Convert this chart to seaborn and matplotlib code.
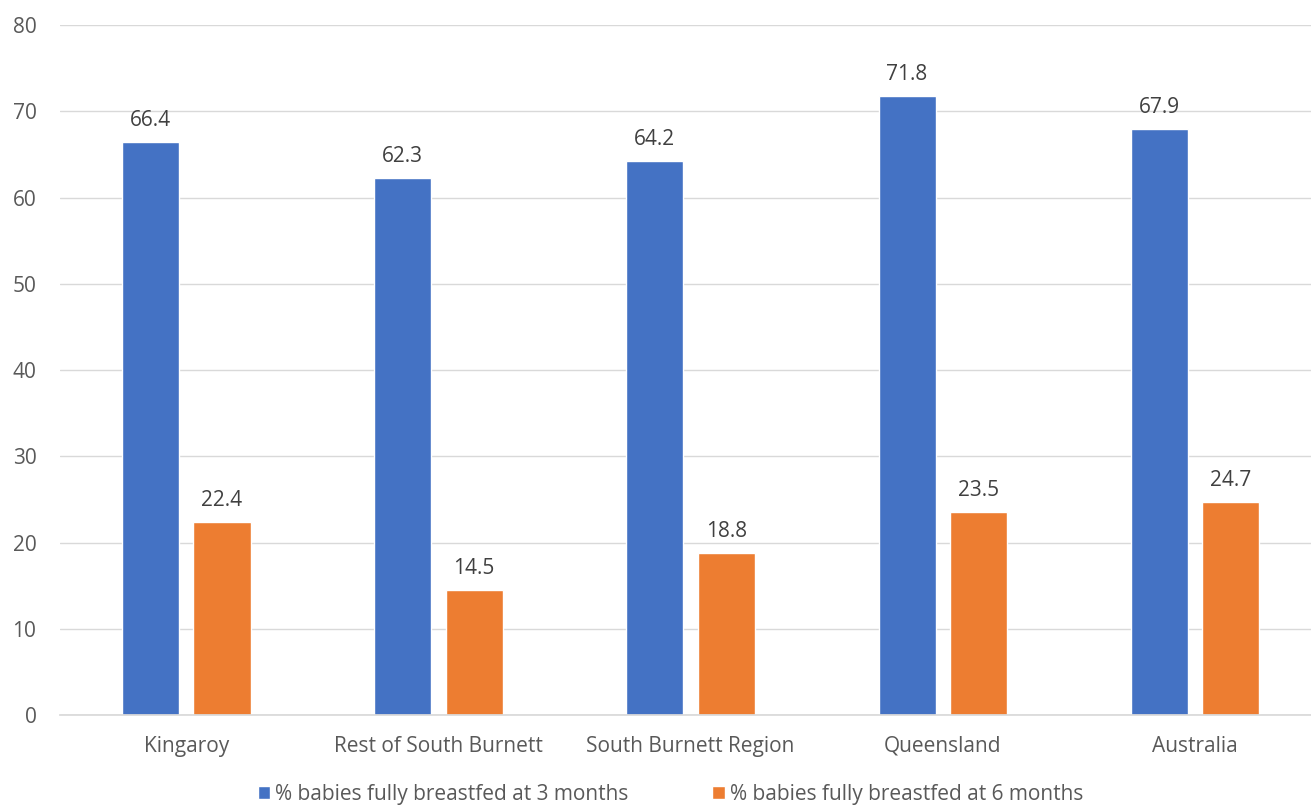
import matplotlib
matplotlib.use("Agg")
import matplotlib.pyplot as plt
import seaborn as sns
import pandas as pd

categories = ["Kingaroy", "Rest of South Burnett", "South Burnett Region", "Queensland", "Australia"]
series_names = ["% babies fully breastfed at 3 months", "% babies fully breastfed at 6 months"]
values_3m = [66.4, 62.3, 64.2, 71.8, 67.9]
values_6m = [22.4, 14.5, 18.8, 23.5, 24.7]
y_ticks = [0, 10, 20, 30, 40, 50, 60, 70, 80]

df = pd.DataFrame({
    "category": categories * 2,
    "series": [series_names[0]] * len(categories) + [series_names[1]] * len(categories),
    "value": values_3m + values_6m,
})

sns.set_theme(style="white")
plt.rcParams["font.family"] = ["Open Sans", "DejaVu Sans"]

fig = plt.figure(figsize=(13.11, 8.09), dpi=100)
ax = fig.add_axes([0.0458, 0.1162, 0.962, 0.8528])

sns.barplot(data=df, x="category", y="value", hue="series", order=categories,
            hue_order=series_names, palette=["#4472C4", "#ED7D31"],
            width=0.567, gap=0.2, saturation=1, ax=ax, legend=True)

for c in ax.containers:
    ax.bar_label(c, fmt="%.1f", padding=8, fontsize=15, color="#404040")

ax.set_ylim(0, 80)
ax.set_xlim(-0.5, 4.5)
ax.set_yticks(y_ticks)
ax.yaxis.grid(True, color="#D9D9D9", linewidth=1)
ax.set_axisbelow(True)
for s in ["top", "right", "left"]:
    ax.spines[s].set_visible(False)
ax.spines["bottom"].set_color("#D9D9D9")
ax.set_xlabel("")
ax.set_ylabel("")
ax.tick_params(axis="both", length=0, labelsize=15, labelcolor="#595959")
ax.tick_params(axis="x", pad=15)
ax.tick_params(axis="y", pad=17)

leg = ax.legend(loc="upper center", bbox_to_anchor=(0.484, -0.079), ncol=2, frameon=False,
                fontsize=15, handlelength=0.6, handleheight=0.6, handletextpad=0.25,
                columnspacing=4.0, labelcolor="#595959", borderpad=0.2)

fig.savefig("out.png", dpi=100)
